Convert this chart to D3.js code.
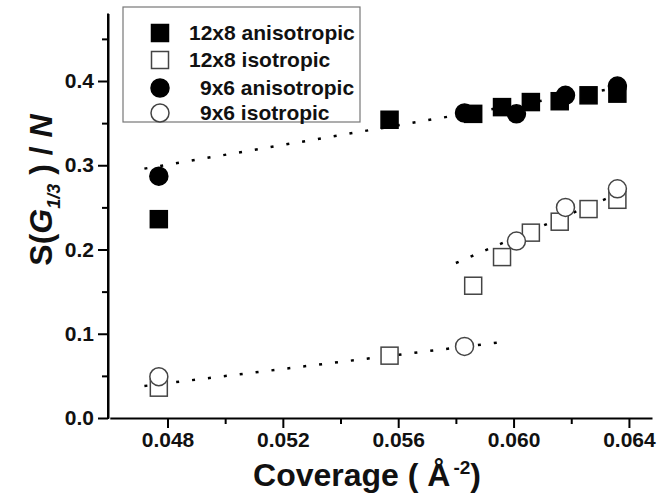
<!DOCTYPE html>
<html lang="en">
<head>
<meta charset="utf-8">
<title>S(G1/3)/N vs coverage</title>
<script src="https://cdn.jsdelivr.net/npm/d3@7"></script>
<style>
  body { margin: 0; background: #fff; }
  text { font-family: "Liberation Sans", Arial, sans-serif; font-weight: bold; }
</style>
</head>
<body>
<svg id="chart" width="661" height="498"></svg>
<script>
// coverage values (Å^-2)
const cov12 = [0.0477, 0.0557, 0.0586, 0.0596, 0.0606, 0.0616, 0.0626, 0.0636];
const aniso12 = [0.236, 0.354, 0.361, 0.369, 0.375, 0.376, 0.383, 0.385];
const iso12 = [0.036, 0.074, 0.157, 0.191, 0.220, 0.233, 0.248, 0.259];
const cov9 = [0.0477, 0.0583, 0.0601, 0.0618, 0.0636];
const aniso9 = [0.287, 0.362, 0.361, 0.383, 0.394];
const iso9 = [0.049, 0.085, 0.210, 0.250, 0.272];

// dotted guide lines, [coverage, value] end points
const anisoFit = [[0.0472, 0.296], [0.0636, 0.392]];
const isoLowFit = [[0.0472, 0.038], [0.0598, 0.091]];
const isoHighFit = [[0.0580, 0.184], [0.0636, 0.266]];

const xTicks = [0.048, 0.052, 0.056, 0.060, 0.064];
const xMinor = [0.050, 0.054, 0.058, 0.062];
const yTicks = [0.0, 0.1, 0.2, 0.3, 0.4];
const yMinor = [0.05, 0.15, 0.25, 0.35, 0.45];
const legendLabels = ["12x8 anisotropic", "12x8 isotropic", "9x6 anisotropic", "9x6 isotropic"];

const svg = d3.select("#chart");

const x = d3.scaleLinear().domain([0.046, 0.0648]).range([109.8, 652]);
const y = d3.scaleLinear().domain([0, 0.48]).range([418, 13.6]);

// minor ticks
svg.append("g")
  .attr("transform", "translate(0,418)")
  .call(d3.axisBottom(x).tickValues(xMinor).tickSize(6).tickFormat(""))
  .call(g => g.select(".domain").remove());
svg.append("g")
  .attr("transform", "translate(108,0)")
  .call(d3.axisLeft(y).tickValues(yMinor).tickSize(6).tickFormat(""))
  .call(g => g.select(".domain").remove());

// major axes
const xAxis = svg.append("g")
  .attr("transform", "translate(0,418)")
  .call(d3.axisBottom(x).tickValues(xTicks).tickSize(10).tickSizeOuter(0).tickPadding(4)
    .tickFormat(d3.format(".3f")));
const yAxis = svg.append("g")
  .attr("transform", "translate(108,0)")
  .call(d3.axisLeft(y).tickValues(yTicks).tickSize(10).tickSizeOuter(0).tickPadding(4)
    .tickFormat(d3.format(".1f")));

svg.selectAll(".tick line").attr("stroke", "#000").attr("stroke-width", 2);
svg.selectAll(".domain").attr("stroke", "#000").attr("stroke-width", 2);
xAxis.selectAll("text").attr("font-size", 21).attr("fill", "#111");
yAxis.selectAll("text").attr("font-size", 21).attr("fill", "#111");
svg.append("line").attr("x1", 108).attr("x2", 108).attr("y1", y(0.48)).attr("y2", 419)
  .attr("stroke", "#000").attr("stroke-width", 2);

// dotted lines
const line = d3.line().x(d => x(d[0])).y(d => y(d[1]));
[anisoFit, isoLowFit, isoHighFit].forEach(f => {
  svg.append("path").attr("d", line(f))
    .attr("fill", "none").attr("stroke", "#000").attr("stroke-width", 2.5)
    .attr("stroke-dasharray", "3,13");
});

// markers
const S = 17, R = 9;
function squares(cov, vals, filled) {
  svg.append("g").selectAll("rect").data(cov).join("rect")
    .attr("x", (d) => x(d) - S / 2)
    .attr("y", (d, i) => y(vals[i]) - S / 2)
    .attr("width", S).attr("height", S)
    .attr("fill", filled ? "#000" : "#fff")
    .attr("stroke", filled ? "#000" : "#444").attr("stroke-width", 1.5);
}
function circles(cov, vals, filled) {
  svg.append("g").selectAll("circle").data(cov).join("circle")
    .attr("cx", (d) => x(d))
    .attr("cy", (d, i) => y(vals[i]))
    .attr("r", R)
    .attr("fill", filled ? "#000" : "#fff")
    .attr("stroke", filled ? "#000" : "#444").attr("stroke-width", 1.5);
}
squares(cov12, aniso12, true);
squares(cov12, iso12, false);
circles(cov9, aniso9, true);
circles(cov9, iso9, false);

// legend
const lg = svg.append("g");
lg.append("rect").attr("x", 123).attr("y", 7).attr("width", 237).attr("height", 115)
  .attr("fill", "#fff").attr("stroke", "#777").attr("stroke-width", 1.2);
const rows = [33, 60, 88, 113];
legendLabels.forEach((lab, i) => {
  const cy = rows[i];
  const filled = i % 2 === 0;
  if (i < 2) {
    lg.append("rect").attr("x", 160 - S / 2).attr("y", cy - S / 2).attr("width", S).attr("height", S)
      .attr("fill", filled ? "#000" : "#fff").attr("stroke", filled ? "#000" : "#444").attr("stroke-width", 1.5);
  } else {
    lg.append("circle").attr("cx", 160).attr("cy", cy).attr("r", R)
      .attr("fill", filled ? "#000" : "#fff").attr("stroke", filled ? "#000" : "#444").attr("stroke-width", 1.5);
  }
  lg.append("text").attr("x", i < 2 ? 189 : 200).attr("y", cy + 7)
    .attr("font-size", 21).attr("fill", "#111").text(lab);
});

// axis titles
const xt = svg.append("text").attr("x", 367).attr("y", 486).attr("text-anchor", "middle")
  .attr("font-size", 32).attr("fill", "#111");
xt.append("tspan").text("Coverage ( Å");
xt.append("tspan").attr("dx", 3).attr("dy", -12).attr("font-size", 19).text("-2");
xt.append("tspan").attr("dy", 12).text(")");

const yt = svg.append("text").attr("transform", "translate(52,190) rotate(-90)")
  .attr("text-anchor", "middle").attr("font-size", 32).attr("fill", "#111");
yt.append("tspan").text("S(");
yt.append("tspan").attr("font-style", "italic").text("G");
yt.append("tspan").attr("font-style", "italic").attr("font-size", 18).attr("dy", 8).text("1/3");
yt.append("tspan").attr("dy", -8).text(" ) / ");
yt.append("tspan").attr("font-style", "italic").text("N");
</script>
</body>
</html>
